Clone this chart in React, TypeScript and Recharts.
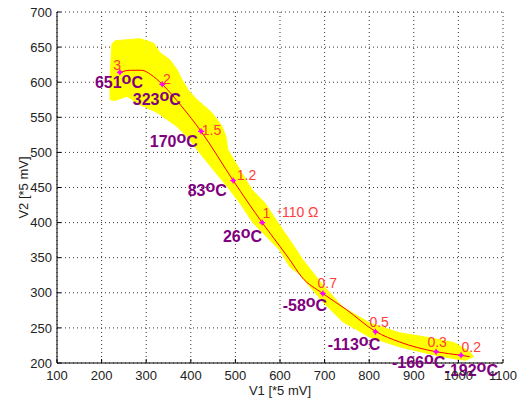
import { ScatterChart, Scatter, XAxis, YAxis, CartesianGrid, ReferenceDot } from 'recharts';

const FONT = '"Liberation Sans", Arial, Helvetica, sans-serif';

// axis ticks
const xTicks = [100, 200, 300, 400, 500, 600, 700, 800, 900, 1000, 1100];
const yTicks = [200, 250, 300, 350, 400, 450, 500, 550, 600, 650, 700];

// yellow spread band outline (V1, V2)
const bandV1 = [230, 286, 316, 331, 353, 369, 380, 394, 414, 447, 470, 479, 483, 514, 537, 566, 595, 637, 651, 696, 740, 801, 868, 935, 991, 1025, 1034, 1016, 991, 935, 868, 801, 740, 696, 644, 622, 599, 539, 510, 487, 456, 414, 398, 369, 324, 286, 257, 230, 219, 219, 221, 223];
const bandV2 = [659, 662, 656, 642, 632, 618, 604, 589, 575, 557, 537, 522, 504, 471, 447, 428, 400, 361, 347, 311, 280, 257, 243, 236, 229, 216, 209, 204, 206, 213, 223, 237, 259, 287, 326, 337, 361, 400, 428, 447, 471, 504, 518, 537, 557, 568, 580, 574, 575, 604, 632, 654];

// red mean curve
const curveV1 = [241, 265, 290, 310, 336, 379, 423, 495, 560, 600, 622, 648, 696, 749, 814, 868, 950, 1006, 1025];
const curveV2 = [614, 617, 617, 611, 597, 566, 530, 460, 400, 366, 347, 323, 299, 276, 245, 230, 216, 211, 209];

// magenta markers
const markerV1 = [241, 336, 423, 495, 560, 696, 814, 950, 1006];
const markerV2 = [614, 597, 530, 460, 400, 299, 244.5, 216, 211];

// red value labels
const numLabels = ['3', '2', '1.5', '1.2', '1', '0.7', '0.5', '0.3', '0.2'];
const numLabelV1 = [226, 337.5, 424.7, 503, 561, 684, 800.5, 930.5, 1007];
const numLabelV2 = [617.7, 598, 525, 461, 407, 307, 251, 223, 216];

// purple temperature labels
const tempLabels = ['651', '323', '170', '83', '26', '-58', '-113', '-166', '-192'];
const tempV1 = [185, 270, 308, 393, 472, 606, 707, 851, 969];
const tempV2 = [592, 568, 507, 438, 373, 274, 218.5, 193, 181];

// resistance note
const ohmLabel = '110 Ω';
const ohmV1 = 592.5;
const ohmV2 = 408;

const band = bandV1.map((x, i) => ({ x, y: bandV2[i] }));
const curve = curveV1.map((x, i) => ({ x, y: curveV2[i] }));
const markers = markerV1.map((x, i) => ({ x, y: markerV2[i] }));

const Empty = () => <g />;

const MarkerShape = (p: any) => (
  <g>
    <circle cx={p.cx} cy={p.cy} r={2} fill="#ff00ff" />
    <path
      d={`M${p.cx - 3},${p.cy}H${p.cx + 3}M${p.cx},${p.cy - 3}V${p.cy + 3}`}
      stroke="#ff00ff"
      strokeWidth={1.2}
    />
  </g>
);

export default function App() {
  return (
    <div style={{ position: 'absolute', left: 0, top: 0, width: 527, height: 403, background: '#fff' }}>
      <ScatterChart width={527} height={403} margin={{ top: 12, right: 24, bottom: 0, left: 0 }}>
        <CartesianGrid stroke="#333" strokeDasharray="1 3" />
        <XAxis
          type="number"
          dataKey="x"
          domain={[100, 1100]}
          ticks={xTicks}
          allowDataOverflow
          height={40}
          tickSize={-4}
          tickMargin={12}
          axisLine={{ stroke: '#000' }}
          tickLine={{ stroke: '#000' }}
          tick={{ fill: '#222', fontSize: 13, fontFamily: FONT }}
          label={{ value: 'V1 [*5 mV]', position: 'insideBottom', offset: 8, fill: '#222', fontSize: 13, fontFamily: FONT }}
        />
        <YAxis
          type="number"
          dataKey="y"
          domain={[200, 700]}
          ticks={yTicks}
          allowDataOverflow
          width={57}
          tickSize={-4}
          tickMargin={9}
          axisLine={{ stroke: '#000' }}
          tickLine={{ stroke: '#000' }}
          tick={{ fill: '#222', fontSize: 13, fontFamily: FONT }}
          label={{ value: 'V2 [*5 mV]', angle: -90, position: 'center', dx: -5.5, fill: '#222', fontSize: 13, fontFamily: FONT }}
        />

        {/* spread band */}
        <Scatter
          data={band}
          fill="#ffff00"
          line={{ fill: '#ffff00', stroke: '#ffff00', strokeWidth: 1 }}
          lineJointType="linearClosed"
          shape={Empty}
          isAnimationActive={false}
        />

        {/* mean curve */}
        <Scatter
          data={curve}
          fill="#ff0000"
          line={{ stroke: '#ff0000', strokeWidth: 1 }}
          lineJointType="monotoneX"
          shape={Empty}
          isAnimationActive={false}
        />

        {/* markers */}
        <Scatter data={markers} fill="#ff00ff" shape={MarkerShape} isAnimationActive={false} />

        {numLabels.map((t, i) => (
          <ReferenceDot
            key={'n' + i}
            x={numLabelV1[i]}
            y={numLabelV2[i]}
            r={0}
            ifOverflow="visible"
            shape={(p: any) => (
              <text x={p.cx} y={p.cy} fill="#ff3c3c" fontSize={14} fontFamily={FONT}>
                {t}
              </text>
            )}
          />
        ))}

        {tempLabels.map((t, i) => (
          <ReferenceDot
            key={'t' + i}
            x={tempV1[i]}
            y={tempV2[i]}
            r={0}
            ifOverflow="visible"
            shape={(p: any) => (
              <text x={p.cx} y={p.cy} fill="#800080" fontSize={16} fontWeight="bold" fontFamily={FONT}>
                {t}
                <tspan dy={-4}>o</tspan>
                <tspan dy={4}>C</tspan>
              </text>
            )}
          />
        ))}

        <ReferenceDot
          x={ohmV1}
          y={ohmV2}
          r={0}
          ifOverflow="visible"
          shape={(p: any) => (
            <text x={p.cx} y={p.cy} fill="#ff3c3c" fontSize={14} fontFamily={FONT}>
              <tspan fontSize={9} dy={-2}>+</tspan>
              <tspan dy={2}>{ohmLabel}</tspan>
            </text>
          )}
        />
      </ScatterChart>
    </div>
  );
}
